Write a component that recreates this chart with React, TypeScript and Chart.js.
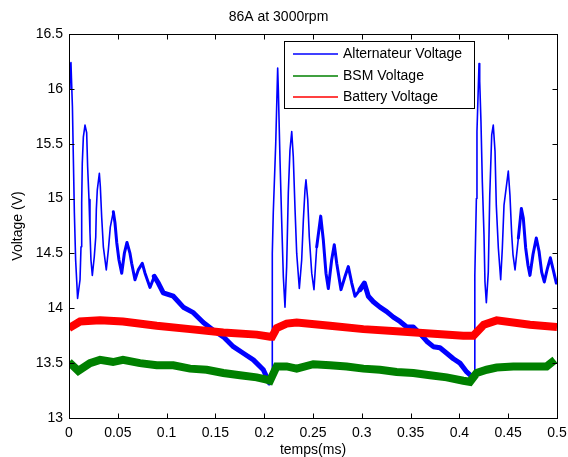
import { useEffect, useRef } from "react";
import { Chart, registerables } from "chart.js";

Chart.register(...registerables);

const TITLE = "86A at 3000rpm";
const X_TITLE = "temps(ms)";
const Y_TITLE = "Voltage (V)";

const xTicks = [0, 0.05, 0.1, 0.15, 0.2, 0.25, 0.3, 0.35, 0.4, 0.45, 0.5];
const yTicks = [13, 13.5, 14, 14.5, 15, 15.5, 16, 16.5];

const seriesNames = ["Alternateur Voltage", "BSM Voltage", "Battery Voltage"];
const seriesColors = ["#0000ff", "#008000", "#ff0000"];

// Alternateur Voltage
const altT = [
  0.0, 0.001, 0.002, 0.0025, 0.0035, 0.0045, 0.0055, 0.0068, 0.0088, 0.0113,
  0.0123, 0.013, 0.0136, 0.0147, 0.0164, 0.0181, 0.0191, 0.0205, 0.0215, 0.0225,
  0.0239, 0.0259, 0.0274, 0.028, 0.029, 0.0311, 0.0321, 0.0335, 0.0352, 0.0382,
  0.0403, 0.0423, 0.0454, 0.0471, 0.0489, 0.0512, 0.054, 0.0567, 0.0594, 0.0625,
  0.0642, 0.0676, 0.071, 0.0751, 0.0779, 0.083, 0.0874, 0.0915, 0.0966, 0.1069,
  0.1171, 0.1274, 0.1376, 0.1479, 0.1581, 0.1684, 0.1786, 0.1889, 0.1991, 0.2053,
  0.208, 0.2083, 0.2093, 0.2118, 0.2138, 0.2145, 0.2162, 0.2179, 0.2196, 0.2213,
  0.223, 0.2247, 0.2264, 0.2282, 0.2298, 0.2316, 0.2333, 0.236, 0.2384, 0.2401,
  0.2418, 0.2428, 0.2446, 0.2462, 0.2487, 0.251, 0.2538, 0.2579, 0.2606, 0.2633,
  0.2657, 0.2691, 0.2718, 0.2743, 0.2787, 0.2828, 0.2862, 0.2897, 0.293, 0.2982,
  0.3026, 0.3067, 0.3118, 0.3186, 0.3255, 0.3323, 0.3391, 0.346, 0.3528, 0.3596,
  0.3665, 0.3733, 0.3801, 0.387, 0.3938, 0.4006, 0.4075, 0.4126, 0.415, 0.4158,
  0.4174, 0.418, 0.4201, 0.4208, 0.4221, 0.4235, 0.4252, 0.4262, 0.4276, 0.4296,
  0.4311, 0.4331, 0.4347, 0.4365, 0.4378, 0.4399, 0.4423, 0.444, 0.4457, 0.4501,
  0.4518, 0.4536, 0.4549, 0.457, 0.4604, 0.4635, 0.4655, 0.4679, 0.4703, 0.4723,
  0.4754, 0.4788, 0.4816, 0.4843, 0.487, 0.4901, 0.4932, 0.4959, 0.4993,
];
const altV = [
  16.0, 16.18, 16.24, 16.1, 15.84, 15.35, 14.87, 14.44, 14.09, 14.26,
  14.56, 14.96, 15.32, 15.56, 15.67, 15.6, 15.29, 14.99, 14.69, 14.44,
  14.3, 14.47, 14.65, 14.9, 15.08, 15.23, 15.11, 14.83, 14.56, 14.35,
  14.53, 14.74, 14.88, 14.78, 14.6, 14.44, 14.32, 14.5, 14.6, 14.5,
  14.41, 14.26, 14.35, 14.41, 14.32, 14.19, 14.29, 14.23, 14.14, 14.11,
  14.01, 13.96, 13.87, 13.8, 13.74, 13.65, 13.59, 13.53, 13.44, 13.32,
  13.38, 14.5, 14.87, 15.5, 16.19, 15.99, 15.35, 14.8, 14.29, 14.01,
  14.38, 15.05, 15.44, 15.61, 15.38, 14.9, 14.5, 14.18, 14.44, 14.8,
  15.08, 15.17, 14.99, 14.65, 14.32, 14.17, 14.56, 14.84, 14.62, 14.32,
  14.18, 14.44, 14.58, 14.41, 14.17, 14.29, 14.38, 14.23, 14.11, 14.17,
  14.23, 14.11, 14.06, 14.01, 13.97, 13.92, 13.88, 13.83, 13.83, 13.77,
  13.7, 13.65, 13.64, 13.59, 13.54, 13.5, 13.42, 13.38, 13.37, 14.3,
  15.0, 15.61, 16.23, 16.07, 15.7, 15.15, 14.67, 14.24, 14.05, 14.33,
  15.03, 15.58, 15.67, 15.43, 14.94, 14.55, 14.26, 14.55, 14.94, 15.25,
  15.03, 14.67, 14.49, 14.35, 14.64, 14.91, 14.82, 14.55, 14.39, 14.3,
  14.49, 14.64, 14.52, 14.33, 14.24, 14.36, 14.46, 14.36, 14.23,
];

// BSM Voltage
const bsmT = [
  0.0, 0.0095, 0.0215, 0.0318, 0.0451, 0.0553, 0.0727, 0.0899, 0.1069, 0.124,
  0.1411, 0.1581, 0.1752, 0.1923, 0.2025, 0.206, 0.2128, 0.223, 0.2333, 0.2503,
  0.2674, 0.2845, 0.3016, 0.3186, 0.3357, 0.3528, 0.3699, 0.387, 0.404, 0.4108,
  0.4177, 0.428, 0.4382, 0.4552, 0.4723, 0.4894, 0.4979,
];
const bsmV = [
  13.51, 13.43, 13.5, 13.53, 13.51, 13.53, 13.5, 13.48, 13.48, 13.45,
  13.44, 13.41, 13.39, 13.37, 13.35, 13.34, 13.47, 13.47, 13.45, 13.49,
  13.48, 13.47, 13.45, 13.44, 13.42, 13.41, 13.39, 13.37, 13.34, 13.33,
  13.41, 13.44, 13.46, 13.47, 13.47, 13.47, 13.53,
];

// Battery Voltage
const batT = [
  0.0, 0.0113, 0.0318, 0.0553, 0.0899, 0.124, 0.1581, 0.1923, 0.206, 0.208,
  0.2128, 0.223, 0.2333, 0.2674, 0.3016, 0.3357, 0.3699, 0.404, 0.4143, 0.425,
  0.4382, 0.4723, 0.5,
];
const batV = [
  13.82, 13.88, 13.89, 13.88, 13.84, 13.81, 13.78, 13.76, 13.74, 13.74,
  13.82, 13.86, 13.87, 13.84, 13.81, 13.79, 13.77, 13.75, 13.75, 13.85,
  13.89, 13.85, 13.83,
];

const FONT = '"Liberation Sans", Arial, Helvetica, sans-serif';

const pts = (t: number[], v: number[]) => t.map((x, i) => ({ x, y: v[i] }));
const fmt = (v: number) => String(Math.round(v * 100) / 100);

const cyclePhase = (t: number) => (t < 0.208 ? t : t < 0.4145 ? t - 0.208 : t - 0.4145);

const framePlugin = {
  id: "matlabFrame",
  afterDatasetsDraw(chart: any) {
    const { ctx, chartArea: a, scales } = chart;
    const L = Math.round(a.left) + 0.5;
    const R = Math.round(a.right) + 0.5;
    const T = Math.round(a.top) + 0.5;
    const B = Math.round(a.bottom) + 0.5;
    ctx.save();
    ctx.strokeStyle = "#000";
    ctx.lineWidth = 1;
    ctx.strokeRect(L, T, R - L, B - T);
    const tl = 5;
    ctx.beginPath();
    for (const v of xTicks) {
      const x = Math.round(scales.x.getPixelForValue(v)) + 0.5;
      ctx.moveTo(x, B);
      ctx.lineTo(x, B - tl);
      ctx.moveTo(x, T);
      ctx.lineTo(x, T + tl);
    }
    for (const v of yTicks) {
      const y = Math.round(scales.y.getPixelForValue(v)) + 0.5;
      ctx.moveTo(L, y);
      ctx.lineTo(L + tl, y);
      ctx.moveTo(R, y);
      ctx.lineTo(R - tl, y);
    }
    ctx.stroke();

    // legend box (MATLAB-style, inside the axes)
    const bx = 284.5, by = 41.5, bw = 190, bh = 67;
    ctx.fillStyle = "#fff";
    ctx.fillRect(bx, by, bw, bh);
    ctx.strokeStyle = "#000";
    ctx.strokeRect(bx, by, bw, bh);
    const rows = [54, 76, 96.5];
    ctx.font = "14px " + FONT;
    ctx.textBaseline = "middle";
    ctx.textAlign = "left";
    seriesNames.forEach((name, i) => {
      ctx.strokeStyle = seriesColors[i];
      ctx.lineWidth = 1.3;
      ctx.beginPath();
      ctx.moveTo(293, Math.round(rows[i]));
      ctx.lineTo(338, Math.round(rows[i]));
      ctx.stroke();
      ctx.fillStyle = "#000";
      ctx.fillText(name, 343, rows[i] + 0.5);
    });
    ctx.restore();
  },
};

export default function App() {
  const ref = useRef<HTMLCanvasElement | null>(null);
  useEffect(() => {
    if (!ref.current) return;
    const chart = new Chart(ref.current, {
      type: "line",
      data: {
        datasets: [
          {
            label: seriesNames[2],
            data: pts(batT, batV),
            borderColor: seriesColors[2],
            borderWidth: 8,
            pointRadius: 0,
            tension: 0,
            order: 0,
          },
          {
            label: seriesNames[1],
            data: pts(bsmT, bsmV),
            borderColor: seriesColors[1],
            borderWidth: 8,
            pointRadius: 0,
            tension: 0,
            order: 1,
          },
          {
            label: seriesNames[0],
            data: pts(altT, altV),
            borderColor: seriesColors[0],
            borderWidth: 1.6,
            pointRadius: 0,
            tension: 0,
            order: 2,
            borderJoinStyle: "round",
            borderCapStyle: "round",
            segment: {
              borderWidth: (c: any) => {
                if (Math.abs(c.p1.parsed.y - c.p0.parsed.y) > 0.4) return 1.6;
                const ph = cyclePhase(c.p0.parsed.x);
                return ph > 0.085 ? 5 : ph > 0.045 ? 3 : 1.6;
              },
            },
          },
        ],
      },
      options: {
        animation: false,
        responsive: false,
        maintainAspectRatio: false,
        layout: { padding: { left: 0, right: 11, top: 0, bottom: 0 } },
        plugins: {
          legend: { display: false },
          tooltip: { enabled: false },
          title: {
            display: true,
            text: TITLE,
            color: "#000",
            font: { family: FONT, size: 14, weight: "normal" },
            padding: { top: 8.3, bottom: 8.9 },
          },
        },
        scales: {
          x: {
            type: "linear",
            min: 0,
            max: 0.5,
            afterBuildTicks: (s: any) => {
              s.ticks = xTicks.map((value) => ({ value }));
            },
            afterFit: (s: any) => {
              s.height = 39;
              s.paddingLeft = 0;
              s.paddingRight = 0;
            },
            grid: { display: false, drawTicks: false },
            border: { display: false },
            ticks: {
              color: "#000",
              font: { family: FONT, size: 14 },
              padding: 7,
              maxRotation: 0,
              autoSkip: false,
              callback: (v: any) => fmt(Number(v)),
            },
            title: {
              display: true,
              text: X_TITLE,
              color: "#000",
              font: { family: FONT, size: 14 },
              padding: { top: 0, bottom: -1.5 },
            },
          },
          y: {
            type: "linear",
            min: 13,
            max: 16.5,
            afterBuildTicks: (s: any) => {
              s.ticks = yTicks.map((value) => ({ value }));
            },
            afterFit: (s: any) => {
              s.width = 69;
              s.paddingTop = 0;
              s.paddingBottom = 0;
            },
            grid: { display: false, drawTicks: false },
            border: { display: false },
            ticks: {
              color: "#000",
              font: { family: FONT, size: 14 },
              padding: 6,
              autoSkip: false,
              callback: (v: any) => fmt(Number(v)),
            },
            title: {
              display: true,
              text: Y_TITLE,
              color: "#000",
              font: { family: FONT, size: 14 },
              padding: { top: 10, bottom: 0 },
            },
          },
        },
      },
      plugins: [framePlugin],
    });
    return () => chart.destroy();
  }, []);
  return (
    <div style={{ position: "absolute", left: 0, top: 0, width: 568, height: 457, background: "#fff" }}>
      <canvas ref={ref} width={568} height={457} />
    </div>
  );
}
